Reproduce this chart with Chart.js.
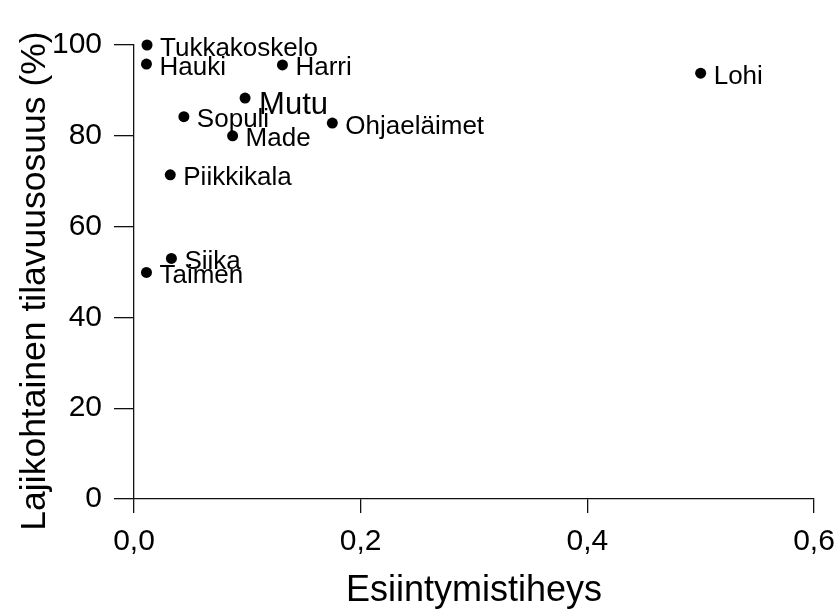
<!DOCTYPE html>
<html>
<head>
<meta charset="utf-8">
<script src="https://cdn.jsdelivr.net/npm/chart.js@4/dist/chart.umd.min.js"></script>
<style>
  html, body { margin: 0; padding: 0; background: #fff; }
  #wrap { width: 837px; height: 612px; }
</style>
</head>
<body>
<div id="wrap"><canvas id="c" width="837" height="612"></canvas></div>
<script>
// Lajit ja niiden esiintymistiheys / lajikohtainen tilavuusosuus
const species = ['Tukkakoskelo', 'Hauki', 'Harri', 'Mutu', 'Sopuli', 'Made',
                 'Ohjaeläimet', 'Piikkikala', 'Siika', 'Taimen', 'Lohi'];
const frequency = [0.0115, 0.011, 0.131, 0.098, 0.044, 0.087, 0.175, 0.032, 0.033, 0.011, 0.500];
const volumeShare = [100, 95.8, 95.6, 88.3, 84.2, 80.0, 82.8, 71.4, 53.0, 49.9, 93.8];

const xTicks = [0, 0.2, 0.4, 0.6];
const yTicks = [0, 20, 40, 60, 80, 100];

const xTitle = 'Esiintymistiheys';
const yTitle = 'Lajikohtainen tilavuusosuus (%)';

const FONT = '"Liberation Sans", Arial, Helvetica, sans-serif';
const INK = '#111';

// Pistetekstit oikealle puolelle pistettä
const pointLabels = {
  id: 'pointLabels',
  afterDatasetsDraw(chart) {
    const ctx = chart.ctx;
    const meta = chart.getDatasetMeta(0);
    ctx.save();
    ctx.fillStyle = '#000';
    ctx.textAlign = 'left';
    ctx.textBaseline = 'alphabetic';
    meta.data.forEach((pt, i) => {
      const big = species[i] === 'Mutu';
      ctx.font = (big ? 31 : 26) + 'px ' + FONT;
      ctx.fillText(species[i], pt.x + (big ? 14 : 13), pt.y + (big ? 16 : 10.5));
    });
    ctx.restore();
  }
};

// Pystyakselin otsikko
const yAxisTitle = {
  id: 'yAxisTitle',
  afterDraw(chart) {
    const ctx = chart.ctx;
    ctx.save();
    ctx.translate(45, 281);
    ctx.rotate(-Math.PI / 2);
    ctx.fillStyle = '#000';
    ctx.font = '35.5px ' + FONT;
    ctx.textAlign = 'center';
    ctx.textBaseline = 'alphabetic';
    ctx.fillText(yTitle, 0, 0);
    ctx.restore();
  }
};

const fmt = v => v.toFixed(1).replace('.', ',');

new Chart(document.getElementById('c'), {
  type: 'scatter',
  data: {
    datasets: [{
      data: frequency.map((x, i) => ({ x, y: volumeShare[i] })),
      backgroundColor: '#000',
      borderWidth: 0,
      pointRadius: 5.5,
      clip: false
    }]
  },
  options: {
    responsive: false,
    animation: false,
    events: [],
    layout: { padding: { top: 45, right: 23, left: 0, bottom: 0 } },
    plugins: { legend: { display: false }, tooltip: { enabled: false } },
    scales: {
      x: {
        type: 'linear',
        min: 0, max: 0.6,
        afterBuildTicks: s => { s.ticks = xTicks.map(v => ({ value: v })); },
        afterFit: s => { s.height = 113; s.paddingLeft = 0; s.paddingRight = 0; },
        border: { display: true, color: INK, width: 1.3 },
        grid: { display: true, drawOnChartArea: false, drawTicks: true, tickLength: 14, color: INK, lineWidth: 1.3 },
        ticks: { color: '#000', font: { family: FONT, size: 30 }, padding: 11, maxRotation: 0, callback: v => fmt(v) },
        title: { display: true, text: xTitle, color: '#000', font: { family: FONT, size: 36 }, padding: { top: 0, bottom: -1 } }
      },
      y: {
        type: 'linear',
        min: 0, max: 100,
        afterBuildTicks: s => { s.ticks = yTicks.map(v => ({ value: v })); },
        afterFit: s => { s.width = 134; s.paddingTop = 0; s.paddingBottom = 0; },
        border: { display: true, color: INK, width: 1.3 },
        grid: { display: true, drawOnChartArea: false, drawTicks: true, tickLength: 20, color: INK, lineWidth: 1.3 },
        ticks: { color: '#000', font: { family: FONT, size: 30 }, padding: 12, callback: v => String(v) },
        title: { display: false }
      }
    }
  },
  plugins: [pointLabels, yAxisTitle]
});
</script>
</body>
</html>
